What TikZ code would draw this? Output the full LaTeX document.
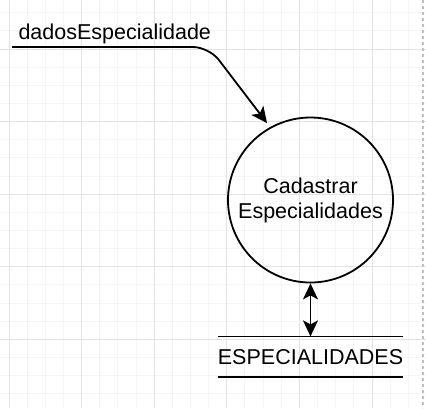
\documentclass[tikz,border=0pt]{standalone}
\usepackage{fontspec}
\setmainfont{Liberation Sans}
\usetikzlibrary{arrows.meta,positioning}
\tikzset{every picture/.style={
  >={Stealth[length=16pt,width=15pt,inset=4pt]}  % draw.io style arrows.
  }
}

\begin{document}
\begin{tikzpicture}[
    x=1pt, y=-1pt,
    every node/.style={font=\fontsize{21.5pt}{25pt}\selectfont},
    minor/.style={draw=black!4, line width=1pt},
    major/.style={draw=black!11, line width=1pt},
    flow/.style={line width=1.8pt},
    proc/.style={
      circle,
      draw,
      line width=1.8pt,
      minimum size=165pt,
      inner sep=0pt,
      align=center
    },
    store/.style={
      minimum width=181pt,
      minimum height=40pt,
      inner sep=0pt
    }]
    \useasboundingbox (0,0) rectangle (426,408);

    % Draw the background grid.
    \foreach \k in {0,...,22}
      \draw[minor] ({9+18.15*\k},0) -- ({9+18.15*\k},408);
    \foreach \k in {0,...,21}
      \draw[minor] (0,{12.7+18.15*\k}) -- (426,{12.7+18.15*\k});
    \foreach \k in {0,...,5}
      \draw[major] ({9+72.6*\k},0) -- ({9+72.6*\k},408);
    \foreach \k in {0,...,4}
      \draw[major] (0,{49+72.6*\k}) -- (426,{49+72.6*\k});

    % Page border.
    \draw[black!25, line width=1.5pt, dash pattern=on 3pt off 3pt]
      (423,0) -- (423,408);

    % The process and its data store.
    \node[proc] (cad) at (310.5,200) {Cadastrar\\Especialidades};
    \node[store,below=53pt of cad] (esp) {ESPECIALIDADES};
    \draw[flow] (esp.north west) -- (esp.north east)
      (esp.south west) -- (esp.south east);

    % Incoming data flow.
    \node[anchor=base west] (dados) at (15,39) {dadosEspecialidade};
    \coordinate (in) at (12,47);
    \coordinate (knee) at (209,47);
    \draw[flow,->,rounded corners=16pt,shorten >=5pt]
      (in) -- (knee) -- (cad.119);

    % Read and write the store.
    \draw[flow,<->] (cad) -- (esp);
  \end{tikzpicture}
\end{document}
